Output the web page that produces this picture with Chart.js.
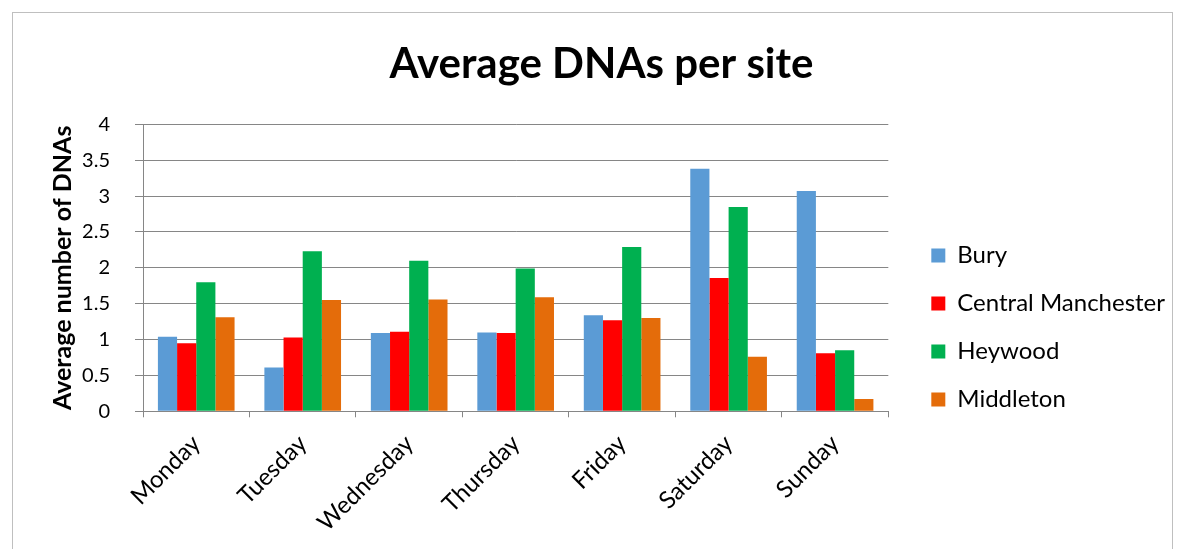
<!DOCTYPE html>
<html>
<head>
<meta charset="utf-8">
<script src="https://cdn.jsdelivr.net/npm/chart.js@4.4.1/dist/chart.umd.min.js"></script>
<style>
    html, body { margin: 0; padding: 0; background: #fff; overflow: hidden; }
    #frame {
        position: absolute; left: 12px; top: 12px; width: 1161px; height: 560px;
        border: 1px solid #bfbfbf; box-sizing: border-box; background: #fff;
    }
    #wrap { position: absolute; left: 13px; top: 13px; width: 1158px; height: 544px; }
</style>
</head>
<body>
<div id="frame"></div>
<div id="wrap"><canvas id="chart-dnas"></canvas></div>
<script>
const days = ['Monday', 'Tuesday', 'Wednesday', 'Thursday', 'Friday', 'Saturday', 'Sunday'];
const bury = [1.04, 0.61, 1.09, 1.10, 1.34, 3.38, 3.07];
const centralManchester = [0.95, 1.03, 1.11, 1.09, 1.27, 1.86, 0.81];
const heywood = [1.80, 2.23, 2.10, 1.99, 2.29, 2.85, 0.85];
const middleton = [1.31, 1.55, 1.56, 1.59, 1.30, 0.76, 0.17];
const yTicks = [0, 0.5, 1, 1.5, 2, 2.5, 3, 3.5, 4];

const font = 'Lato, "Open Sans", sans-serif';
const gridGray = '#868686';

// Excel places the legend further right and the title a touch off-centre
const nudgeBoxes = {
    id: 'nudgeBoxes',
    afterLayout: (chart) => {
        if (chart.legend) {
            chart.legend.left += 19;
            chart.legend.right += 19;
        }
        if (chart.titleBlock) {
            chart.titleBlock.left += 7;
            chart.titleBlock.right += 7;
        }
    },
};

document.addEventListener('DOMContentLoaded', () => {
    const el = document.getElementById('chart-dnas');
    const bar = (label, data, color) => ({
        label, data, backgroundColor: color,
        categoryPercentage: 0.72, barPercentage: 1.0,
    });

    new Chart(el, {
        type: 'bar',
        data: {
            labels: days,
            datasets: [
                bar('Bury', bury, '#5b9bd5'),
                bar('Central Manchester', centralManchester, '#ff0000'),
                bar('Heywood', heywood, '#00b050'),
                bar('Middleton', middleton, '#e46c0a'),
            ],
        },
        plugins: [nudgeBoxes],
        options: {
            responsive: true,
            maintainAspectRatio: false,
            animation: false,
            layout: { padding: { left: 20, right: 15, top: 0, bottom: 8 } },
            plugins: {
                title: {
                    display: true,
                    text: 'Average DNAs per site',
                    color: '#000',
                    font: { family: font, size: 42, weight: 'bold' },
                    padding: { top: 26, bottom: 35 },
                },
                legend: {
                    position: 'right',
                    align: 'start',
                    title: { display: true, text: ' ', font: { size: 2 }, padding: { top: 204, bottom: 0 } },
                    labels: {
                        color: '#000',
                        font: { family: font, size: 24 },
                        boxWidth: 14,
                        boxHeight: 14,
                        padding: 24,
                    },
                },
                tooltip: { enabled: false },
            },
            scales: {
                x: {
                    grid: {
                        offset: true,
                        drawOnChartArea: false,
                        drawTicks: true,
                        tickLength: 6,
                        color: gridGray,
                    },
                    border: { display: true, color: gridGray },
                    ticks: {
                        color: '#000',
                        font: { family: font, size: 24 },
                        maxRotation: 45,
                        minRotation: 45,
                        padding: 12,
                    },
                },
                y: {
                    min: 0,
                    max: 4,
                    afterBuildTicks: (axis) => { axis.ticks = yTicks.map((v) => ({ value: v })); },
                    afterFit: (axis) => { axis.width = 110; },
                    grid: { color: gridGray, tickLength: 8 },
                    border: { display: true, color: gridGray },
                    ticks: {
                        color: '#000',
                        font: { family: font, size: 20 },
                        padding: 25,
                        callback: (v) => String(v),
                    },
                    title: {
                        display: true,
                        text: 'Average number of DNAs',
                        color: '#000',
                        font: { family: font, size: 25, weight: 'bold' },
                        padding: { top: 15, bottom: 0 },
                    },
                },
            },
        },
    });
});
</script>
</body>
</html>
